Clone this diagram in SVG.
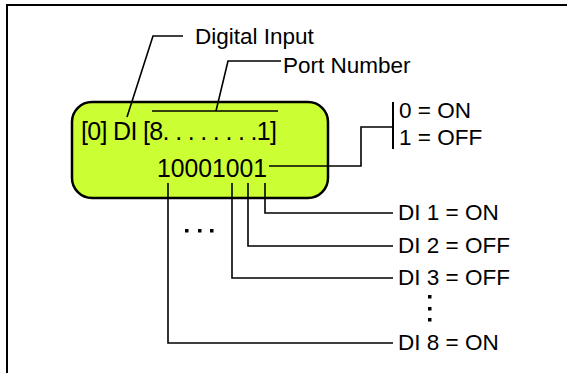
<svg xmlns="http://www.w3.org/2000/svg" width="567" height="373" viewBox="0 0 567 373">
<style>
.ln{fill:none;stroke:#000;stroke-width:1.6}
.t{font-family:"Liberation Sans",Arial,sans-serif;font-size:22.5px;fill:#000}
.big{font-family:"Liberation Sans",Arial,sans-serif;font-size:25px;fill:#000}
.dot{fill:#000}
</style>
<rect x="7" y="5" width="620" height="420" fill="#fff" stroke="#000" stroke-width="2"/>
<g id="display">
<rect x="72" y="102" width="256" height="96" rx="20" ry="20" fill="#CCFF33" stroke="#000" stroke-width="2.5"/>
<text class="big" x="81" y="140" textLength="196" lengthAdjust="spacing">[0] DI [8. . . . . . . .1]</text>
<text class="big" x="157" y="177" textLength="110" lengthAdjust="spacingAndGlyphs">10001001</text>
</g>
<g id="labels">
<text class="t" x="195" y="44">Digital Input</text>
<text class="t" x="283" y="73">Port Number</text>
<text class="t" x="399" y="118">0 = ON</text>
<text class="t" x="399" y="145">1 = OFF</text>
<text class="t" x="398" y="220">DI 1 = ON</text>
<text class="t" x="398" y="253">DI 2 = OFF</text>
<text class="t" x="398" y="285">DI 3 = OFF</text>
<text class="t" x="398" y="350">DI 8 = ON</text>
</g>
<g id="connectors">
<polyline class="ln" points="127,117 153,36 183,36"/>
<line class="ln" x1="152" y1="111" x2="278" y2="111"/>
<polyline class="ln" points="216,111 228,61 281,61"/>
<polyline class="ln" points="269,166 361,166 361,127 393,127"/>
<line x1="393" y1="102" x2="393" y2="149" stroke="#000" stroke-width="2"/>
<polyline class="ln" points="265,183 265,213 393,213"/>
<polyline class="ln" points="248,183 248,246 393,246"/>
<polyline class="ln" points="232,183 232,278 393,278"/>
<polyline class="ln" points="168,183 168,343 393,343"/>
</g>
<g id="ellipses">
<rect class="dot" x="185" y="229" width="3.5" height="3.5"/>
<rect class="dot" x="198" y="229" width="3.5" height="3.5"/>
<rect class="dot" x="210" y="229" width="3.5" height="3.5"/>
<rect class="dot" x="428" y="295" width="3.5" height="3.5"/>
<rect class="dot" x="428" y="307" width="3.5" height="3.5"/>
<rect class="dot" x="428" y="318" width="3.5" height="3.5"/>
</g>
</svg>
